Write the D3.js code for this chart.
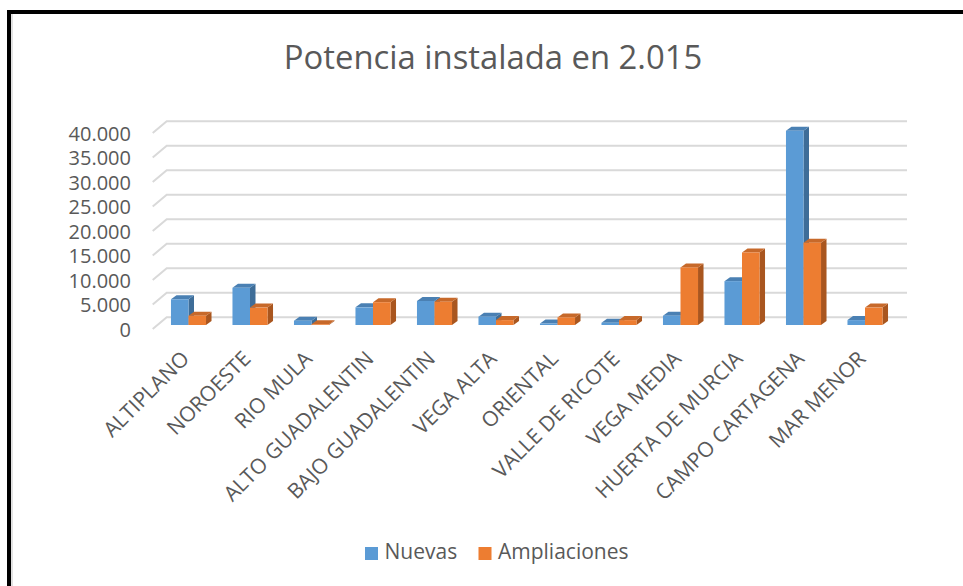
<!DOCTYPE html>
<html>
<head>
<meta charset="utf-8">
<script src="https://cdn.jsdelivr.net/npm/d3@7"></script>
<style>
  body { margin: 0; background: #fff; }
  text { font-family: "Open Sans", sans-serif; fill: #595959; }
</style>
</head>
<body>
<div class="chart"></div>
<script>
var categories = ['ALTIPLANO', 'NOROESTE', 'RIO MULA', 'ALTO GUADALENTIN', 'BAJO GUADALENTIN',
    'VEGA ALTA', 'ORIENTAL', 'VALLE DE RICOTE', 'VEGA MEDIA', 'HUERTA DE MURCIA',
    'CAMPO CARTAGENA', 'MAR MENOR'];
var nuevas = [5250, 7600, 880, 3600, 4900, 1700, 300, 450, 1900, 8950, 39650, 1000];
var ampliaciones = [1900, 3550, 150, 4650, 4750, 1000, 1550, 1000, 11750, 14800, 16800, 3550];
var seriesNames = ['Nuevas', 'Ampliaciones'];
var yTicks = [0, 5000, 10000, 15000, 20000, 25000, 30000, 35000, 40000];

var colors = {
    Nuevas: { front: '#5b9bd5', side: '#3e6d98', top: '#4a80b3' },
    Ampliaciones: { front: '#ed7d31', side: '#a9561f', top: '#c7692a' }
};

var width = 963, height = 586;
var depthX = 5.5, depthY = -4;   // 3d offset of the bars
var wallX = 14, wallY = -11.7;   // floor depth for the gridlines

var svg = d3.select('.chart')
    .append('svg')
    .attr('width', width)
    .attr('height', height);

svg.append('rect').attr('width', width).attr('height', height).attr('fill', '#fff');

// frame
svg.append('rect').attr('x', 7).attr('y', 10).attr('width', width).attr('height', 4).attr('fill', '#000');
svg.append('rect').attr('x', 7).attr('y', 10).attr('width', 4).attr('height', height).attr('fill', '#000');
svg.append('line').attr('x1', 12).attr('x2', 12).attr('y1', 14).attr('y2', height)
    .attr('stroke', '#d9d9d9').attr('stroke-width', 1.5);

svg.append('text')
    .attr('x', 493)
    .attr('y', 69)
    .attr('text-anchor', 'middle')
    .style('font-size', '32.8px')
    .text('Potencia instalada en 2.015');

var y = d3.scaleLinear().domain([0, 40000]).range([325, 129]);

var x = d3.scaleBand()
    .domain(categories)
    .range([157.75, 895.75])
    .paddingInner(0.43)
    .paddingOuter(0.215);

var xs = d3.scaleBand().domain(seriesNames).range([0, x.bandwidth()]);

// back wall gridlines with the floor diagonal
var grid = svg.append('g');
yTicks.forEach(function (t) {
    var yb = y(t) - 7.7;
    grid.append('path')
        .attr('d', 'M' + 152.7 + ' ' + (yb - wallY) + ' L' + (152.7 + wallX) + ' ' + yb + ' L907 ' + yb)
        .attr('fill', 'none')
        .attr('stroke', '#d9d9d9')
        .attr('stroke-width', 2);
});

// y labels
var yAxis = d3.axisLeft(y)
    .tickValues(yTicks)
    .tickSize(0)
    .tickPadding(0)
    .tickFormat(function (d) { return d3.format(',')(d).replace(/,/g, '.'); });

var gy = svg.append('g').attr('transform', 'translate(131,5)').call(yAxis);
gy.select('.domain').remove();
gy.selectAll('text').style('font-size', '20px').attr('fill', '#595959').style('font-family', '"Open Sans", sans-serif');

// bars
var rows = categories.map(function (c, i) {
    return [
        { cat: c, name: 'Nuevas', value: nuevas[i] },
        { cat: c, name: 'Ampliaciones', value: ampliaciones[i] }
    ];
});

var bars = svg.append('g');
rows.forEach(function (pair) {
    pair.forEach(function (d) {
        var x0 = x(d.cat) + xs(d.name);
        var w = xs.bandwidth();
        var yt = y(d.value);
        var yb = y(0);
        var c = colors[d.name];
        bars.append('path')
            .attr('d', 'M' + (x0 + w) + ' ' + yt + ' L' + (x0 + w + depthX) + ' ' + (yt + depthY) +
                ' L' + (x0 + w + depthX) + ' ' + (yb + depthY) + ' L' + (x0 + w) + ' ' + yb + 'Z')
            .attr('fill', c.side);
        bars.append('path')
            .attr('d', 'M' + x0 + ' ' + yt + ' L' + (x0 + depthX) + ' ' + (yt + depthY) +
                ' L' + (x0 + w + depthX) + ' ' + (yt + depthY) + ' L' + (x0 + w) + ' ' + yt + 'Z')
            .attr('fill', c.top);
        bars.append('rect')
            .attr('x', x0)
            .attr('y', yt)
            .attr('width', w)
            .attr('height', yb - yt)
            .attr('fill', c.front);
    });
});

// category labels
svg.append('g').selectAll('text').data(categories).enter()
    .append('text')
    .attr('transform', function (d) {
        return 'translate(' + (x(d) + x.bandwidth() / 2 + 2) + ',360) rotate(-45)';
    })
    .attr('text-anchor', 'end')
    .style('font-size', '21px')
    .text(function (d) { return d; });

// legend
var legendX = [365, 478.5];
var legend = svg.append('g');
seriesNames.forEach(function (s, i) {
    legend.append('rect')
        .attr('x', legendX[i])
        .attr('y', 547)
        .attr('width', 13)
        .attr('height', 13)
        .attr('fill', colors[s].front);
    legend.append('text')
        .attr('x', legendX[i] + 19.5)
        .attr('y', 553.5)
        .attr('dominant-baseline', 'middle')
        .style('font-size', '21px')
        .text(s);
});
</script>
</body>
</html>
